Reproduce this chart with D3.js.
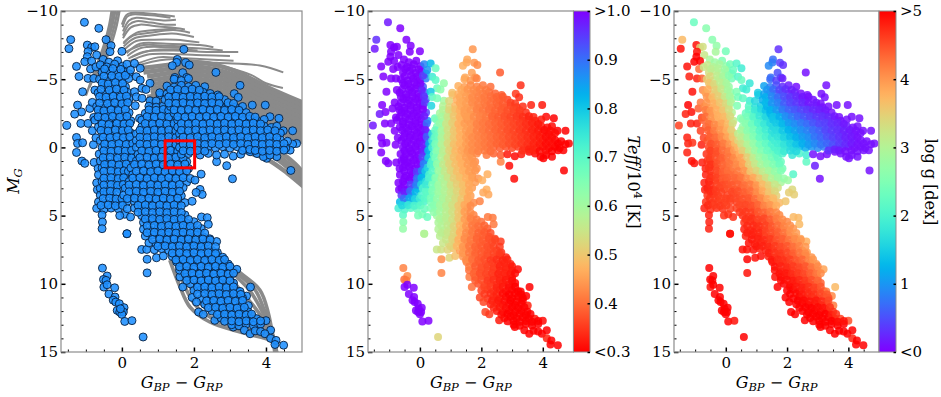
<!DOCTYPE html>
<html>
<head>
<meta charset="utf-8">
<script src="https://cdnjs.cloudflare.com/ajax/libs/d3/7.8.5/d3.min.js"></script>
<style>
  body { margin: 0; background: #fff; }
  text { font-family: "DejaVu Serif", serif; fill: #000; }
</style>
</head>
<body>
<svg id="chart" width="941" height="397"></svg>
<script>
// stars, each row is [bp-rp, M_G, teff/1e4, log g]
const hotOutliers = [
  [-1.04,-9.17,.98,2.3],[-.64,-8.73,1,2.6],[-1.42,-7.9,.96,3.7],[-1.47,-7.24,.98,4.9],[-.96,-7.5,1,4.9],[-.84,-7.33,1,3.5],
  [-.75,-7.38,1,3.3],[-.44,-7.9,1,2.6],[-.3,-7.46,1,2.7],[-.33,-7.02,1,2.9],[0,-7.04,1,2.4],[-.94,-7.02,1,4.9],
  [-.7,-6.77,1,3.2],[-.96,-6.65,1,5],[-1.03,-6.28,1,5],[-.84,-6.33,1,5],[-.52,-6.45,1,2.9],[-.36,-6.25,1,2.8],
  [-.12,-6.35,1,2.5],[-1.26,-5.94,1,4.9],[-.87,-5.75,1,4.3],[-.72,-5.9,1,3.2],[-1.19,-5.2,1,4.8],[-.94,-5.06,1,4.8],
  [-.78,-5.06,1,4.4],[-1.09,-4.08,1,4.9],[-.75,-4.2,1,4.1],[-1.23,-3.1,1,5],[-1.12,-2.6,1,4.9],[-1.31,-2.44,.98,4.8],
  [-.89,-2.86,1,4.4],[-1.14,-1.76,1,4.8],[-1.53,-1.61,.98,4.6],[-.94,-1.76,1,4.8],[-.82,-1.22,1,4.6],[-1.26,-.73,1,4.8],
  [-1.23,-.29,1,4.8],[-1.09,-.34,1,4.7],[-1.26,.37,1,4.8],[-.79,-.2,1,4.8],[-1.11,1,1,4.9],[-1.03,1.17,1,4.9],
  [-.63,.49,1,4.7],[-.77,1.1,1,4.8],[-.66,1.54,1,4.8],[-.52,.93,1,4.7],[-.82,-3.3,1,4.2],[-.78,-2.2,1,4.6],
  [-.7,2.6,1,4.8],[-.72,-.7,1,4.6],[-.68,3.1,1,4.8]
];

const hotStrip = [
  [-.6,-6.05,1,3.2],[-.42,-5.9,1,3],[-.2,-6.1,1,2.9],[.02,-5.95,1,2.7],[.14,-6.1,.88,2.4],
  [-.55,-5.5,1,3.3],[-.33,-5.6,1,3.1],[-.13,-5.45,1,2.9],[.06,-5.55,.98,2.6],[.2,-5.4,.85,2.3],
  [-.62,-5,1,3.5],[-.4,-4.9,1,3.2],[-.22,-5.05,1,3],[0,-4.95,1,2.8],[.19,-5.05,.88,2.4],
  [-.5,-4.55,1,3.6],[-.3,-4.4,1,3.3],[-.1,-4.55,1,3.1],[.1,-4.45,.92,2.7],
  [-.66,-4,1,3.9],[-.45,-3.9,1,3.6],[-.25,-4.05,1,3.4],[-.05,-3.95,1,3.1],[.15,-4.05,.9,2.7],
  [-.54,-3.55,1,3.9],[-.36,-3.45,1,3.6],[-.14,-3.55,1,3.4],[.05,-3.45,1,3.1],[.2,-3.55,.92,2.8],
  [-.7,-3,1,4.1],[-.5,-2.9,1,3.9],[-.3,-3.05,1,3.7],[-.1,-2.95,1,3.5],[.1,-3.05,1,3.2],
  [-.6,-2.55,1,4.1],[-.41,-2.45,1,3.9],[-.2,-2.5,1,3.7],[0,-2.42,1,3.5],[.2,-2.55,.94,3],
  [-.75,-2,1,4.4],[-.55,-1.9,1,4.1],[-.35,-2.05,1,3.9],[-.15,-1.95,1,3.8],[.05,-2.05,1,3.6],[.25,-1.95,.86,3.1],
  [-.65,-1.5,1,4.4],[-.44,-1.42,1,4.2],[-.26,-1.55,1,4],[-.05,-1.45,1,3.9],[.15,-1.55,1,3.6],
  [-.5,-1,1,4.4],[-.3,-.92,1,4.2],[-.1,-1.05,1,4],[.1,-.95,1,3.8],[.25,-1.05,.9,3.4],
  [-.6,-.5,1,4.5],[-.4,-.42,1,4.4],[-.2,-.55,1,4.2],[0,-.45,1,4.1],[.2,-.55,.96,3.7],
  [-.55,0,1,4.6],[-.35,.08,1,4.4],[-.15,-.05,1,4.3],[.05,.05,1,4.2],[.25,-.05,.82,3.9],
  [-.45,.5,1,4.6],[-.25,.42,1,4.5],[-.05,.55,1,4.3],[.15,.45,.92,4.2],[.3,.55,.8,4],
  [-.6,1,1,4.7],[-.4,1.08,1,4.5],[-.2,.95,1,4.4],[0,1.05,1,4.3],[.2,.95,.85,4.2],
  [-.55,1.5,1,4.7],[-.35,1.42,1,4.6],[-.15,1.55,1,4.4],[.05,1.45,.92,4.3],
  [-.65,2,1,4.8],[-.45,2.08,1,4.6],[-.25,1.95,1,4.5],[-.05,2.05,.92,4.4],[.1,1.95,.82,4.3],
  [-.55,2.5,1,4.8],[-.35,2.42,1,4.6],[-.15,2.55,.92,4.5],[0,2.45,.82,4.5],
  [-.6,3,1,4.8],[-.4,3.08,1,4.7],[-.2,2.95,.88,4.6],[-.05,3.05,.8,4.5],
  [-.6,3.5,.95,4.7],[-.42,3.42,.92,4.7],[-.25,3.55,.86,4.6],
  [-.65,4,.82,4.7],[-.45,4.08,.8,4.6],[-.25,3.95,.78,4.6],[-.05,4.05,.76,4.6],[.15,3.95,.72,4.6],
  [-.7,4.47,.73,4.8],[-.5,4.55,.72,4.7],[-.3,4.45,.7,4.7],[-.1,4.5,.68,4.7],[.08,4.9,.66,4.7],[-.06,5,.66,4.7],
  [-.55,4.95,.7,4.8],[-.54,5.47,.64,4.8],[-.55,5.96,.62,4.8],[.24,5.1,.68,4.7],[.14,6.33,.58,4.9]
];

const hotFill = [
  [-.48,-5.75,1,3.1],[-.25,-5.78,1,3],[-.03,-5.72,1,2.8],
  [-.5,-5.22,1,3.4],[-.28,-5.25,1,3.1],[-.08,-5.2,1,2.9],[.1,-5.28,.95,2.6],
  [-.55,-4.72,1,3.6],[-.38,-4.65,1,3.4],[-.18,-4.75,1,3.1],[.02,-4.68,1,2.9],
  [-.58,-4.25,1,3.8],[-.35,-4.2,1,3.5],[-.15,-4.28,1,3.2],[.06,-4.2,.98,2.9],
  [-.62,-3.72,1,4],[-.44,-3.68,1,3.7],[-.24,-3.75,1,3.5],[-.04,-3.7,1,3.2],[.13,-3.75,.96,2.9],
  [-.62,-3.25,1,4],[-.4,-3.22,1,3.8],[-.2,-3.28,1,3.6],[0,-3.2,1,3.4],[.16,-3.28,.95,3],
  [-.66,-2.75,1,4.2],[-.5,-2.68,1,4],[-.3,-2.75,1,3.8],[-.1,-2.7,1,3.6],[.1,-2.78,1,3.3],
  [-.66,-2.25,1,4.3],[-.47,-2.2,1,4],[-.26,-2.28,1,3.8],[-.06,-2.22,1,3.7],[.14,-2.28,.98,3.4],
  [-.55,-1.72,1,4.3],[-.36,-1.68,1,4.1],[-.14,-1.75,1,3.9],[.06,-1.7,1,3.7],[.22,-1.75,.9,3.3],
  [-.58,-1.25,1,4.4],[-.38,-1.2,1,4.2],[-.18,-1.28,1,4],[.02,-1.22,1,3.8],[.18,-1.28,.98,3.5],
  [-.52,-.75,1,4.4],[-.33,-.72,1,4.3],[-.14,-.78,1,4.1],[.04,-.72,1,3.9],[.22,-.78,.92,3.6],
  [-.48,-.25,1,4.5],[-.28,-.22,1,4.4],[-.08,-.28,1,4.2],[.12,-.22,.98,4],[.3,-.28,.84,3.7],
  [-.5,.25,1,4.6],[-.3,.28,1,4.5],[-.1,.22,1,4.3],[.1,.28,.98,4.2],[.27,.22,.82,3.95],
  [-.52,.75,1,4.6],[-.32,.72,1,4.5],[-.12,.78,1,4.4],[.08,.72,.95,4.25],[.27,.78,.8,4.1],
  [-.48,1.25,1,4.7],[-.28,1.22,1,4.5],[-.08,1.28,1,4.35],[.12,1.22,.88,4.25],
  [-.5,1.75,1,4.7],[-.3,1.72,1,4.55],[-.1,1.78,.95,4.4],[.06,1.72,.88,4.3],[.18,1.75,.8,4.3],
  [-.5,2.25,1,4.7],[-.3,2.22,1,4.6],[-.1,2.28,.9,4.45],[.05,2.22,.82,4.4],
  [-.5,2.75,1,4.75],[-.3,2.72,.95,4.6],[-.12,2.78,.88,4.55],[.04,2.72,.78,4.5],
  [-.5,3.25,.98,4.75],[-.32,3.22,.9,4.65],[-.14,3.28,.82,4.6],
  [-.52,3.75,.9,4.7],[-.34,3.72,.84,4.65],[-.16,3.78,.78,4.6],[0,3.75,.74,4.6],
  [-.58,4.25,.78,4.75],[-.38,4.22,.75,4.65],[-.18,4.28,.72,4.65],[.02,4.25,.7,4.6]
];

const midStars = [
  [.35,-6.16,.82,2.1],[.51,-5.8,.68,1.9],[.24,-5.67,.86,2.3],[.4,-5.18,.74,2.1],[.51,-4.94,.7,2.3],[.78,-4.7,.62,1.8],
  [.56,-4.33,.68,1.9],[.67,-4.25,.63,1.9],[.35,-4.08,.8,2.5],[.4,-3.7,.7,2.4],[.78,-3.42,.6,1.9],[.56,-3.6,.66,2.2],
  [.37,-3.06,.78,2.5],[.49,-2.13,.68,2.6],[1.06,-3.84,.49,1.4],[.95,-3.4,.52,1.6],
  [.75,-3.02,.58,2.1],[.95,-2.95,.52,1.7],[1.15,-3.05,.48,1.5],
  [.65,-2.5,.6,2.3],[.85,-2.42,.55,2],[1.05,-2.55,.5,1.8],[1.25,-2.45,.47,1.5],
  [.55,-2,.65,2.6],[.75,-1.92,.58,2.4],[.95,-2.05,.53,2.1],[1.15,-1.95,.49,1.8],[1.35,-2.05,.46,1.6],
  [.55,-1.5,.66,2.7],[.75,-1.42,.58,2.5],[.95,-1.55,.53,2.3],[1.15,-1.45,.49,2],[1.35,-1.55,.46,1.8],
  [.4,-1,.76,3.1],[.6,-.92,.63,2.9],[.8,-1.05,.57,2.6],[1,-.95,.52,2.3],[1.2,-1.05,.48,2.1],[1.4,-.95,.46,1.9],
  [.4,-.5,.74,3.4],[.6,-.42,.62,3],[.8,-.55,.56,2.8],[1,-.45,.51,2.5],[1.2,-.55,.48,2.3],[1.4,-.45,.46,2.1],
  [.4,0,.72,3.7],[.6,.08,.61,3.2],[.8,-.05,.55,2.9],[1,.05,.5,2.6],[1.2,-.05,.47,2.4],[1.4,.05,.45,2.2],
  [.45,.5,.68,3.8],[.65,.42,.59,3.4],[.85,.55,.54,3.1],[1.05,.45,.5,2.8],[1.25,.55,.47,2.6],[1.45,.45,.45,2.4],
  [.4,1,.7,4],[.6,1.08,.6,3.8],[.8,.95,.55,3.4],[1,1.05,.5,3],[1.2,.95,.48,2.8],[1.4,1.05,.46,2.6],[1.6,.95,.44,2.4],[1.8,1.05,.43,2.3],
  [.25,1.5,.78,4.2],[.45,1.42,.66,4.1],[.65,1.55,.59,3.9],[.85,1.45,.54,3.5],[1.05,1.55,.5,3.2],[1.25,1.45,.48,3],[1.45,1.55,.46,2.8],[1.65,1.45,.45,2.6],[1.85,1.55,.44,2.4],
  [.3,2,.72,4.3],[.5,2.08,.63,4.2],[.7,1.95,.58,4],[.9,2.05,.54,3.8],[1.1,1.95,.5,3.5],[1.3,2.05,.48,3.2],[1.5,1.95,.46,3],[1.7,2.05,.45,2.7],
  [.2,2.5,.76,4.4],[.4,2.42,.66,4.3],[.6,2.55,.61,4.2],[.8,2.45,.57,4.1],[1,2.55,.53,3.9],[1.2,2.45,.5,3.5],[1.4,2.55,.48,3.3],[1.6,2.45,.46,3.1],[1.8,2.55,.45,2.9],
  [.1,3,.72,4.5],[.3,3.08,.68,4.5],[.5,2.95,.63,4.4],[.7,3.05,.6,4.3],[.9,2.95,.56,4.2],[1.1,3.05,.52,4],[1.3,2.95,.5,3.7],[1.5,3.05,.47,3.5],[1.7,2.95,.45,3.3],
  [.05,3.5,.72,4.6],[.25,3.42,.68,4.6],[.45,3.55,.64,4.5],[.65,3.45,.6,4.4],[.85,3.55,.57,4.3],[1.05,3.45,.54,4.1],[1.25,3.55,.51,3.9],[1.45,3.45,.48,3.7],[1.65,3.55,.45,3.5],
  [.35,4,.66,4.6],[.55,4.08,.62,4.5],[.75,3.95,.59,4.5],[.95,4.05,.56,4.4],[1.15,3.95,.53,4.2],[1.35,4.05,.49,4],[1.55,3.95,.46,3.8],[1.75,4.05,.43,3.7],[1.95,3.95,.42,3.6],
  [.15,4.5,.68,4.6],[.35,4.45,.66,4.6],[.55,4.55,.62,4.6],[.75,4.45,.59,4.6],[.95,4.55,.56,4.5],[1.15,4.45,.52,4.3],[1.35,4.55,.47,4.2],[1.55,4.45,.43,4],
  [.55,5,.6,4.7],[.75,5.08,.58,4.7],[.95,4.95,.56,4.6],[1.15,5.05,.52,4.5],[1.35,4.95,.47,4.4],[1.55,5.05,.43,4.3],[1.75,4.95,.42,4.1],[2.21,5.1,.41,3.7],[2.37,5.15,.41,3.7],
  [.6,5.5,.59,4.7],[.8,5.42,.57,4.7],[1,5.55,.55,4.7],[1.2,5.45,.5,4.6],[1.4,5.55,.46,4.5],[1.6,5.45,.42,4.3],[1.8,5.55,.41,4.2],[2,5.45,.4,4.1],[2.4,5.64,.41,3.7],
  [.6,6,.58,4.8],[.8,6.08,.56,4.8],[1,5.95,.54,4.7],[1.2,6.05,.5,4.7],[1.4,5.95,.45,4.5],[1.6,6.05,.42,4.4],[1.8,5.95,.4,4.3],[2,6.05,.39,4.1],[2.2,5.95,.38,4],
  [.65,6.5,.57,4.8],[.85,6.42,.55,4.8],[1.05,6.55,.52,4.8],[1.25,6.45,.48,4.7],[1.45,6.55,.44,4.6],[1.65,6.45,.41,4.5],[1.85,6.55,.39,4.4],[2.05,6.45,.38,4.2],[2.25,6.55,.37,4.1],[2.44,6.7,.36,3.9],
  [.55,7.48,.55,4.9],[.69,7.48,.54,4.9],[.75,7,.55,4.9],[.95,7.08,.53,4.8],[1.15,6.95,.5,4.8],[1.35,7.05,.45,4.7],[1.55,6.95,.42,4.6],[1.75,7.05,.4,4.5],[1.95,6.95,.38,4.4],[2.15,7.05,.37,4.2],[2.35,6.95,.36,4.1],[2.63,6.9,.35,3.8]
];

const midFill = [
  [.75,-2.75,.58,2.2],[.95,-2.72,.52,1.85],[1.15,-2.78,.49,1.6],[1.3,-2.72,.47,1.4],
  [.7,-2.25,.6,2.4],[.9,-2.22,.55,2.1],[1.1,-2.28,.5,1.8],[1.3,-2.22,.47,1.6],[1.5,-2.28,.45,1.4],
  [.65,-1.75,.62,2.6],[.85,-1.72,.55,2.3],[1.05,-1.78,.51,2],[1.25,-1.72,.47,1.8],[1.45,-1.75,.45,1.6],
  [.5,-1.25,.68,2.9],[.7,-1.22,.6,2.6],[.9,-1.28,.54,2.4],[1.1,-1.22,.5,2.1],[1.3,-1.28,.47,1.9],[1.5,-1.22,.45,1.7],
  [.5,-.75,.68,3.1],[.7,-.72,.59,2.8],[.9,-.78,.54,2.5],[1.1,-.72,.5,2.2],[1.3,-.78,.47,2],[1.5,-.72,.45,1.8],
  [.5,-.25,.66,3.3],[.7,-.22,.58,3],[.9,-.28,.53,2.7],[1.1,-.22,.49,2.4],[1.3,-.28,.47,2.2],[1.5,-.22,.45,2],
  [.55,.25,.64,3.5],[.75,.28,.57,3.1],[.95,.22,.52,2.8],[1.15,.28,.48,2.5],[1.35,.22,.46,2.3],[1.55,.28,.44,2.2],
  [.5,.75,.66,3.9],[.7,.72,.58,3.5],[.9,.78,.53,3.1],[1.1,.72,.49,2.8],[1.3,.78,.47,2.6],[1.5,.72,.45,2.4],[1.7,.78,.44,2.2],
  [.35,1.25,.72,4.1],[.55,1.22,.63,3.9],[.75,1.28,.56,3.5],[.95,1.22,.52,3.2],[1.15,1.28,.49,2.9],[1.35,1.22,.47,2.7],[1.55,1.28,.45,2.5],[1.75,1.22,.44,2.3],
  [.4,1.75,.7,4.2],[.6,1.72,.61,4],[.8,1.78,.56,3.6],[1,1.72,.52,3.4],[1.2,1.78,.49,3.1],[1.4,1.72,.47,2.9],[1.6,1.78,.45,2.7],[1.8,1.72,.44,2.5],
  [.3,2.25,.72,4.35],[.5,2.22,.64,4.25],[.7,2.28,.59,4.05],[.9,2.22,.55,3.85],[1.1,2.28,.51,3.6],[1.3,2.22,.49,3.3],[1.5,2.28,.47,3],[1.7,2.22,.45,2.8],[1.9,2.28,.44,2.7],
  [.2,2.75,.74,4.45],[.4,2.72,.66,4.4],[.6,2.78,.61,4.3],[.8,2.72,.58,4.2],[1,2.78,.54,4],[1.2,2.72,.51,3.7],[1.4,2.78,.49,3.5],[1.6,2.72,.46,3.2],
  [.2,3.25,.7,4.55],[.4,3.22,.65,4.5],[.6,3.28,.61,4.4],[.8,3.22,.58,4.3],[1,3.28,.55,4.1],[1.2,3.22,.52,3.85],[1.4,3.28,.49,3.6],[1.6,3.22,.46,3.4],
  [.15,3.75,.7,4.6],[.35,3.72,.66,4.55],[.55,3.78,.62,4.5],[.75,3.72,.59,4.45],[.95,3.78,.56,4.3],[1.15,3.72,.53,4.1],[1.35,3.78,.5,3.9],[1.55,3.72,.46,3.7],
  [.45,4.25,.64,4.55],[.65,4.22,.6,4.55],[.85,4.28,.57,4.5],[1.05,4.22,.54,4.35],[1.25,4.28,.5,4.15],[1.45,4.22,.46,4],[1.65,4.28,.43,3.8],
  [.45,4.75,.63,4.65],[.65,4.72,.6,4.65],[.85,4.78,.57,4.6],[1.05,4.72,.54,4.45],[1.25,4.78,.5,4.35],[1.45,4.72,.45,4.2],[1.65,4.78,.43,4.1],
  [.65,5.25,.59,4.7],[.85,5.22,.57,4.7],[1.05,5.28,.54,4.6],[1.25,5.22,.5,4.55],[1.45,5.28,.45,4.4],[1.65,5.22,.42,4.2],[1.85,5.28,.41,4.1],
  [.7,5.75,.58,4.75],[.9,5.72,.56,4.75],[1.1,5.78,.52,4.7],[1.3,5.72,.48,4.6],[1.5,5.78,.44,4.45],[1.7,5.72,.41,4.3],[1.9,5.78,.4,4.15],[2.1,5.72,.39,4.05],
  [.7,6.25,.57,4.8],[.9,6.22,.55,4.8],[1.1,6.28,.52,4.75],[1.3,6.22,.47,4.6],[1.5,6.28,.43,4.5],[1.7,6.22,.41,4.4],[1.9,6.28,.39,4.25],[2.1,6.22,.38,4.05],[2.3,6.28,.37,3.95],
  [.85,6.75,.55,4.85],[1.05,6.72,.52,4.8],[1.25,6.78,.47,4.75],[1.45,6.72,.43,4.65],[1.65,6.78,.41,4.5],[1.85,6.72,.39,4.4],[2.05,6.78,.38,4.25],[2.25,6.72,.37,4.1],[2.45,6.78,.36,4]
];

const giantStars = [
  [1.72,-7.19,.44,.3],[1.54,-6.45,.46,.7],[1.52,-6.23,.46,.8],[1.77,-6.21,.44,.4],[1.4,-5.99,.47,.9],[1.87,-6.04,.43,.3],
  [2.61,-5.5,.38,.1],[1.69,-5.48,.45,.5],[1.47,-5.13,.46,.7],[1.8,-5.13,.44,.4],[3.28,-4.55,.34,.1],[3.12,-3.94,.35,.1],
  [2.66,-3.84,.38,.1],[3.23,-3.67,.34,.1],[3.62,-3.1,.33,.1],[3.98,-3.1,.32,.1],[4.11,-2.25,.31,.1],[4.36,-2.13,.3,.1],
  [4.48,-1.22,.3,.1],[4.74,-1.22,.3,.1],[4.85,-.29,.3,.1],[4.74,-.24,.3,.1],[4.67,.2,.3,.1],[4.69,1.69,.3,.1],
  [4.3,.68,.3,.1],[4.02,.8,.3,.1],[2.91,1.34,.31,.2],[2.63,1.05,.42,2.2],[3.07,2.3,.31,.1],[2.2,1.96,.47,2.1],
  [2.03,2.4,.47,2.8],[2.17,3.08,.47,3.4],[2.23,3.45,.46,3.5],[2.06,3.3,.46,3.5],
  [1.45,-5,.46,.7],[1.65,-4.9,.44,.4],[1.85,-5.05,.42,.2],
  [1.25,-4.5,.47,1.1],[1.45,-4.42,.45,.8],[1.65,-4.55,.43,.5],[1.85,-4.45,.42,.3],[2.05,-4.55,.41,.2],[2.3,-4.45,.4,.1],
  [1.05,-4,.49,1.5],[1.25,-3.92,.47,1.1],[1.45,-4.05,.45,.8],[1.65,-3.95,.43,.6],[1.85,-4.05,.42,.5],[2.05,-3.95,.41,.3],[2.25,-4.05,.4,.2],[2.45,-3.95,.39,.1],
  [1.2,-3.5,.47,1.2],[1.4,-3.42,.45,1],[1.6,-3.55,.43,.8],[1.8,-3.45,.42,.6],[2,-3.55,.41,.4],[2.2,-3.45,.4,.3],[2.4,-3.55,.39,.2],[2.6,-3.45,.38,.1],[2.85,-3.5,.36,.1],
  [1.35,-3,.46,1.2],[1.55,-2.92,.44,1],[1.75,-3.05,.43,.8],[1.95,-2.95,.41,.6],[2.15,-3.05,.4,.5],[2.35,-2.95,.39,.4],[2.55,-3.05,.38,.3],[2.75,-2.95,.37,.2],[2.95,-3.05,.36,.2],[3.15,-2.95,.35,.1],[3.35,-3,.34,.1],
  [1.45,-2.5,.45,1.3],[1.65,-2.42,.44,1.1],[1.85,-2.55,.42,.9],[2.05,-2.45,.41,.7],[2.25,-2.55,.4,.6],[2.45,-2.45,.39,.5],[2.65,-2.55,.38,.4],[2.85,-2.45,.37,.3],[3.05,-2.55,.36,.2],[3.25,-2.45,.35,.2],[3.45,-2.55,.34,.1],
  [1.55,-2,.44,1.4],[1.75,-1.92,.43,1.2],[1.95,-2.05,.41,1],[2.15,-1.95,.4,.9],[2.35,-2.05,.39,.7],[2.55,-1.95,.38,.6],[2.75,-2.05,.37,.5],[2.95,-1.95,.36,.4],[3.15,-2.05,.35,.3],[3.35,-1.95,.34,.3],[3.55,-2.05,.33,.2],[3.75,-1.95,.33,.1],[3.95,-2.05,.32,.1],
  [1.55,-1.5,.45,1.6],[1.75,-1.42,.43,1.4],[1.95,-1.55,.41,1.2],[2.15,-1.45,.4,1],[2.35,-1.55,.39,.9],[2.55,-1.45,.38,.8],[2.75,-1.55,.37,.7],[2.95,-1.45,.36,.6],[3.15,-1.55,.35,.5],[3.35,-1.45,.34,.4],[3.55,-1.55,.33,.3],[3.75,-1.45,.33,.2],[3.95,-1.55,.32,.2],[4.15,-1.45,.31,.1],[4.3,-1.55,.31,.1],
  [1.6,-1,.44,1.7],[1.8,-.92,.43,1.5],[2,-1.05,.41,1.4],[2.2,-.95,.4,1.2],[2.4,-1.05,.39,1],[2.6,-.95,.38,.9],[2.8,-1.05,.37,.8],[3,-.95,.36,.7],[3.2,-1.05,.35,.5],[3.4,-.95,.34,.4],[3.6,-1.05,.33,.3],[3.8,-.95,.33,.2],[4,-1.05,.32,.2],[4.2,-.95,.31,.1],[4.4,-1.05,.31,.1],
  [1.6,-.5,.44,1.9],[1.8,-.42,.43,1.7],[2,-.55,.41,1.5],[2.2,-.45,.4,1.4],[2.4,-.55,.39,1.2],[2.6,-.45,.38,1.1],[2.8,-.55,.37,.9],[3,-.45,.36,.8],[3.2,-.55,.35,.7],[3.4,-.45,.34,.5],[3.6,-.55,.33,.4],[3.8,-.45,.33,.3],[4,-.55,.32,.2],[4.2,-.45,.31,.2],[4.4,-.55,.3,.1],[4.6,-.45,.3,.1],
  [1.6,0,.44,2],[1.8,.08,.43,1.8],[2,-.05,.41,1.7],[2.2,.05,.4,1.5],[2.4,-.05,.39,1.3],[2.6,.05,.38,1.2],[2.8,-.05,.37,1],[3,.05,.36,.9],[3.2,-.05,.35,.8],[3.4,.05,.34,.6],[3.6,-.05,.33,.5],[3.8,.05,.32,.3],[4,-.05,.31,.2],[4.2,.05,.31,.1],[4.4,-.05,.3,.1],[4.55,.05,.3,.1],
  [1.65,.5,.44,2.2],[1.85,.45,.43,2],[2.17,.56,.41,1.8],[2.4,.44,.39,2],[2.63,.56,.38,1.9],[2.85,.5,.32,.1],[3.09,.64,.31,.1],[3.3,.5,.32,.1],[3.56,.32,.31,.1],[3.75,.45,.31,.1],[3.93,.68,.3,.1],[4.11,.56,.3,.1]
];

const giantFill = [
  [1.35,-4.22,.46,1],[1.55,-4.25,.44,.7],[1.75,-4.2,.43,.45],[1.95,-4.27,.42,.3],[2.15,-4.2,.41,.2],
  [1.3,-3.7,.46,1.2],[1.5,-3.75,.45,.9],[1.7,-3.68,.43,.7],[1.9,-3.74,.42,.5],[2.1,-3.7,.41,.35],[2.3,-3.75,.4,.25],[2.5,-3.7,.39,.15],[2.7,-3.72,.38,.1],
  [1.3,-3.25,.46,1.3],[1.5,-3.22,.45,1],[1.7,-3.28,.43,.85],[1.9,-3.2,.42,.6],[2.1,-3.27,.41,.45],[2.3,-3.22,.4,.35],[2.5,-3.28,.39,.25],[2.7,-3.22,.38,.15],[2.95,-3.28,.36,.15],[3.1,-3.22,.35,.1],
  [1.45,-2.75,.45,1.25],[1.65,-2.72,.44,1.05],[1.85,-2.78,.42,.8],[2.05,-2.72,.41,.65],[2.25,-2.78,.4,.55],[2.45,-2.72,.39,.45],[2.65,-2.78,.38,.35],[2.85,-2.72,.37,.25],[3.05,-2.78,.36,.2],[3.25,-2.72,.35,.15],
  [1.55,-2.25,.45,1.4],[1.75,-2.22,.43,1.2],[1.95,-2.28,.42,.95],[2.15,-2.22,.41,.8],[2.35,-2.28,.39,.65],[2.55,-2.22,.38,.55],[2.75,-2.28,.37,.45],[2.95,-2.22,.36,.35],[3.15,-2.28,.35,.3],[3.35,-2.22,.34,.25],[3.55,-2.28,.33,.15],[3.7,-2.22,.33,.1],
  [1.65,-1.75,.44,1.45],[1.85,-1.72,.42,1.3],[2.05,-1.78,.41,1.05],[2.25,-1.72,.4,.95],[2.45,-1.78,.39,.8],[2.65,-1.72,.38,.7],[2.85,-1.78,.37,.55],[3.05,-1.72,.36,.45],[3.25,-1.78,.35,.4],[3.45,-1.72,.34,.3],[3.65,-1.78,.33,.25],[3.85,-1.72,.32,.15],
  [1.65,-1.25,.44,1.65],[1.85,-1.22,.42,1.45],[2.05,-1.28,.41,1.25],[2.25,-1.22,.4,1.1],[2.45,-1.28,.39,.95],[2.65,-1.22,.38,.85],[2.85,-1.28,.37,.7],[3.05,-1.22,.36,.6],[3.25,-1.28,.35,.45],[3.45,-1.22,.34,.35],[3.65,-1.28,.33,.3],[3.85,-1.22,.32,.2],[4.05,-1.28,.31,.15],[4.25,-1.22,.31,.1],
  [1.7,-.75,.43,1.75],[1.9,-.72,.42,1.55],[2.1,-.78,.41,1.35],[2.3,-.72,.4,1.2],[2.5,-.78,.39,1.05],[2.7,-.72,.38,.95],[2.9,-.78,.37,.75],[3.1,-.72,.36,.65],[3.3,-.78,.35,.5],[3.5,-.72,.34,.4],[3.7,-.78,.33,.3],[3.9,-.72,.32,.2],[4.1,-.78,.31,.15],[4.3,-.72,.31,.1],
  [1.7,-.25,.43,1.9],[1.9,-.22,.42,1.75],[2.1,-.28,.41,1.55],[2.3,-.22,.4,1.4],[2.5,-.28,.39,1.2],[2.7,-.22,.38,1.05],[2.9,-.28,.37,.9],[3.1,-.22,.36,.75],[3.3,-.28,.35,.65],[3.5,-.22,.34,.5],[3.7,-.28,.33,.35],[3.9,-.22,.32,.25],[4.1,-.28,.31,.15],[4.3,-.22,.31,.1],[4.5,-.28,.3,.1],
  [1.7,.25,.43,2],[1.9,.28,.42,1.85],[2.1,.22,.41,1.65],[2.3,.28,.4,1.6],[3.35,.22,.34,.3],[3.55,.15,.33,.2],[3.7,.22,.33,.15],[3.9,.28,.31,.1],[4.1,.22,.31,.1],[4.3,.28,.3,.1],[4.5,.2,.3,.1]
];

const lowerStars = [
  [.96,8.09,.52,4.9],[1.15,7.96,.49,4.9],[.9,7.5,.52,4.9],[1.1,7.42,.49,4.8],[1.3,7.55,.45,4.8],[1.5,7.45,.42,4.7],[1.7,7.55,.4,4.6],[1.9,7.45,.38,4.5],[2.1,7.55,.37,4.4],[2.3,7.45,.36,4.2],[2.5,7.55,.35,4.1],[2.65,7.7,.34,3.9],
  [1.4,8,.44,4.8],[1.6,8.08,.41,4.7],[1.8,7.95,.39,4.7],[2,8.05,.37,4.6],[2.2,7.95,.36,4.5],[2.4,8.05,.35,4.3],[2.6,7.95,.34,4.2],[2.8,8.05,.33,4],
  [1.52,8.4,.42,4.9],[1.75,8.5,.39,4.8],[1.95,8.42,.37,4.7],[2.15,8.55,.36,4.6],[2.35,8.45,.35,4.5],[2.55,8.55,.34,4.4],[2.75,8.45,.33,4.2],[2.95,8.55,.33,4],
  [1.61,9.5,.41,4.9],[1.6,9,.4,4.9],[1.8,9.08,.38,4.8],[2,8.95,.37,4.8],[2.2,9.05,.36,4.7],[2.4,8.95,.35,4.6],[2.6,9.05,.33,4.5],[2.8,8.95,.33,4.3],[3,9.05,.32,4.2],[3.19,8.94,.31,3.9],
  [1.8,9.5,.38,4.9],[2,9.42,.37,4.9],[2.2,9.55,.35,4.8],[2.4,9.45,.34,4.7],[2.6,9.55,.33,4.6],[2.8,9.45,.32,4.4],[3,9.55,.31,4.3],
  [1.69,10.24,.4,5],[1.9,10,.37,5],[2.1,10.08,.36,4.9],[2.3,9.95,.35,4.8],[2.5,10.05,.33,4.8],[2.7,9.95,.32,4.7],[2.9,10.05,.31,4.6],[3.1,9.95,.3,4.4],[3.57,10.24,.3,3.7],
  [2,10.5,.36,5],[2.2,10.42,.34,5],[2.4,10.55,.33,4.9],[2.6,10.45,.32,4.8],[2.8,10.55,.31,4.7],[3,10.45,.3,4.6],[3.2,10.55,.3,4.5],[3.28,10.56,.3,4.2],[3.46,10.9,.3,4.1],
  [1.95,11,.36,5],[2.2,11.08,.34,5],[2.4,10.95,.33,5],[2.6,11.05,.32,4.9],[2.8,10.95,.3,4.8],[3,11.05,.3,4.8],[3.2,10.95,.3,4.6],[3.35,11.05,.3,4.5],[2.07,11.34,.36,5],
  [2.3,11.5,.33,5],[2.5,11.42,.32,5],[2.7,11.55,.31,5],[2.9,11.45,.3,4.9],[3.1,11.55,.3,4.9],[3.3,11.45,.3,4.7],[3.51,11.6,.33,4.2],
  [2.13,12.07,.36,5],[2.26,12.24,.35,5],[2.5,12,.32,5],[2.7,12.08,.31,5],[2.9,11.95,.3,5],[3.1,12.05,.3,5],[3.3,11.95,.3,4.9],[3.5,12.05,.3,4.7],
  [2.58,12.68,.32,5],[2.75,12.5,.31,5],[2.95,12.42,.3,5],[3.15,12.55,.3,5],[3.35,12.45,.3,5],[3.55,12.55,.3,4.9],[3.74,12.56,.32,4.6],[4,12.7,.31,4.5],
  [3.09,13.17,.3,5],[3.05,13,.3,5],[3.25,13.08,.3,5],[3.45,12.95,.3,5],[3.65,13.05,.3,5],[3.85,12.95,.3,5],[4.13,13.4,.3,5],
  [3.4,13.4,.3,5],[3.56,13.66,.3,5],[3.7,13.45,.3,5],[3.85,13.5,.3,5],[3.97,13.66,.3,5],[4.13,14,.33,4.8],[4.28,14.15,.3,5],[4.25,14.45,.3,5],[4.49,14.5,.3,5]
];

const lowerFill = [
  [1,7.25,.52,4.85],[1.2,7.22,.48,4.8],[1.4,7.28,.44,4.75],[1.6,7.22,.41,4.65],[1.8,7.28,.39,4.55],[2,7.22,.38,4.45],[2.2,7.28,.37,4.3],[2.4,7.22,.36,4.15],[2.6,7.28,.35,4],
  [1.4,7.75,.44,4.8],[1.6,7.72,.41,4.7],[1.8,7.78,.39,4.65],[2,7.72,.38,4.55],[2.2,7.78,.37,4.4],[2.4,7.72,.36,4.25],[2.6,7.78,.35,4.1],
  [1.5,8.25,.43,4.85],[1.7,8.22,.4,4.75],[1.9,8.28,.38,4.7],[2.1,8.22,.37,4.6],[2.3,8.28,.35,4.45],[2.5,8.22,.34,4.35],[2.7,8.28,.33,4.15],[2.85,8.22,.33,4],
  [1.6,8.75,.41,4.9],[1.8,8.72,.38,4.8],[2,8.78,.37,4.75],[2.2,8.72,.36,4.65],[2.4,8.78,.35,4.55],[2.6,8.72,.33,4.45],[2.8,8.78,.33,4.25],[3,8.72,.32,4.1],
  [1.75,9.25,.39,4.9],[1.95,9.22,.37,4.85],[2.15,9.28,.36,4.75],[2.35,9.22,.35,4.65],[2.55,9.28,.33,4.55],[2.75,9.22,.33,4.4],[2.95,9.28,.32,4.25],[3.1,9.22,.31,4.1],
  [1.8,9.75,.38,4.95],[2,9.72,.37,4.9],[2.2,9.78,.35,4.85],[2.4,9.72,.34,4.75],[2.6,9.78,.33,4.65],[2.8,9.72,.32,4.5],[3,9.78,.31,4.35],
  [2.1,10.25,.36,4.95],[2.3,10.22,.35,4.85],[2.5,10.28,.33,4.8],[2.7,10.22,.32,4.7],[2.9,10.28,.31,4.6],[3.1,10.22,.3,4.45],
  [2.1,10.75,.35,5],[2.3,10.72,.34,4.95],[2.5,10.78,.33,4.85],[2.7,10.72,.31,4.75],[2.9,10.78,.3,4.7],[3.1,10.72,.3,4.55],[3.3,10.78,.3,4.45],
  [2.35,11.25,.33,5],[2.55,11.22,.32,4.95],[2.75,11.28,.31,4.9],[2.95,11.22,.3,4.85],[3.15,11.28,.3,4.75],[3.35,11.22,.3,4.55],
  [2.4,11.75,.33,5],[2.6,11.72,.32,5],[2.8,11.78,.31,5],[3,11.72,.3,4.95],[3.2,11.78,.3,4.9],[3.4,11.72,.3,4.7],
  [2.65,12.25,.31,5],[2.85,12.22,.3,5],[3.05,12.28,.3,5],[3.25,12.22,.3,5],[3.45,12.28,.3,4.85],[3.6,12.22,.3,4.7],
  [2.85,12.75,.3,5],[3.05,12.72,.3,5],[3.25,12.78,.3,5],[3.45,12.72,.3,5],[3.65,12.78,.3,4.95],[3.85,12.72,.3,4.9]
];

const dwarfStars = [
  [.14,6.33,.58,4.9],[.7,8.2,.43,5],[.7,9.2,.42,4.9],[.59,13.9,.52,5],
  [-.54,8.85,.42,5],[-.41,9.43,.43,5],[-.51,9.68,.4,5],[-.44,9.75,.41,5],[-.5,10.24,1,4.9],[-.41,10.07,1,5],
  [-.2,10.29,1,5],[-.36,10.75,1,5],[-.19,10.97,1,5],[-.24,11.2,1,5],[-.17,11.34,1,5],[-.07,11.46,1,5],
  [.06,11.75,1,5],[-.13,11.95,1,5],[-.06,12.07,1,5],[.04,12.07,1,5],[0,12.24,1,5],[-.04,11.83,1,5],[.08,12.76,1,5],[.28,12.7,1,4.9]
];

// grey evolution tracks, [bp-rp, M_G] along each one
const riseTracks = [
  [[-.05,-10.3],[-.14,-9],[-.3,-7.5],[-.5,-6],[-.7,-5]],[[-.1,-10.3],[-.2,-9],[-.36,-7.5],[-.56,-6],[-.78,-5]],
  [[-.16,-10.3],[-.26,-9],[-.42,-7.5],[-.6,-6],[-.84,-4.8]],[[-.22,-10.3],[-.3,-9],[-.46,-7.5],[-.66,-6],[-.9,-4.4]],
  [[-.27,-10.3],[-.35,-9],[-.5,-7.5],[-.7,-6],[-1,-3.8]]
];
const fanTracks = [
  [[0,-9],[.12,-9.7],[.25,-9.85],[.6,-9.85],[1,-9.75],[1.47,-9.6]],[[.02,-8.8],[.15,-9.6],[.3,-9.75],[.7,-9.7],[1.1,-9.6],[1.35,-9.5]],
  [[.03,-8.5],[.2,-9.3],[.4,-9.5],[.8,-9.4],[1.2,-9.3],[1.5,-9.35]],[[.03,-8.2],[.2,-9],[.4,-9.25],[.8,-9.15],[1.2,-9],[1.5,-9]],
  [[.03,-8],[.25,-8.8],[.5,-9],[.9,-8.9],[1.3,-8.8],[1.75,-8.65]],[[.04,-7.6],[.31,-8.2],[.78,-8.4],[1.43,-8.6],[1.89,-8.4]],
  [[.05,-7.4],[.35,-8],[.8,-8.2],[1.4,-8.35],[2,-8.1]],[[.08,-7.2],[.4,-7.8],[.9,-7.9],[1.5,-7.9],[2.15,-7.7]],
  [[.13,-6.9],[.5,-7.6],[1.24,-7.6],[2.17,-7.5],[2.54,-7.35]],[[.15,-6.7],[.55,-7.3],[1.3,-7.35],[2.2,-7.25],[2.8,-7.1]],
  [[.18,-6.5],[.59,-7],[1.43,-7.1],[2.35,-7],[3.23,-7]],[[.2,-6.3],[.7,-6.8],[1.4,-6.85],[2.3,-6.75],[3,-6.7]],
  [[.31,-5.9],[1.24,-6.45],[2.63,-6.2],[3.83,-6],[4.48,-5.5]],[[.3,-6],[1,-6.6],[1.6,-6.55],[2.4,-6.45],[3.1,-6.35]],
  [[.25,-6.6],[.8,-7.1],[1.5,-7.2],[2.1,-7.1]],[[.1,-7],[.6,-7.5],[1.2,-7.45],[1.8,-7.4]],[[.05,-7.7],[.4,-8.4],[.9,-8.6],[1.5,-8.7]],
  [[2.9,-5.9],[3.6,-5.3],[4,-4.7],[4.47,-4.35]]
];
const bandTracks = [
  [[.5,-5.8],[1.5,-6.1],[2.2,-6.2],[3.08,-5.67],[4.03,-4.43],[5.1,-3.2]],[[.6,-5.5],[1.5,-5.8],[2.2,-5.9],[3.08,-5.35],[4.03,-4.15],[5.1,-2.95]],
  [[.7,-5.2],[1.5,-5.5],[2.2,-5.6],[3.08,-5.05],[4.03,-3.85],[5.1,-2.65]],[[.8,-4.9],[1.5,-5.2],[2.2,-5.3],[3.08,-4.75],[4.03,-3.55],[5.1,-2.35]],
  [[.8,-4.6],[1.5,-4.9],[2.2,-5],[3.08,-4.45],[4.03,-3.25],[5.1,-2.05]],[[.8,-4.3],[1.5,-4.6],[2.2,-4.7],[3.08,-4.15],[4.03,-2.95],[5.1,-1.75]],
  [[.8,-4],[1.5,-4.3],[2.2,-4.4],[3.08,-3.85],[4.03,-2.65],[5.1,-1.45]],[[.7,-3.7],[1.5,-4],[2.2,-4.1],[3.08,-3.55],[4.03,-2.35],[5.1,-1.15]],
  [[.7,-3.4],[1.5,-3.7],[2.2,-3.8],[3.08,-3.25],[4.03,-2.05],[5.1,-.85]],[[.7,-3.1],[1.5,-3.4],[2.2,-3.5],[3.08,-2.95],[4.03,-1.75],[5.1,-.55]],
  [[.8,-2.8],[1.5,-3.1],[2.2,-3.2],[3.08,-2.65],[4.03,-1.45],[5.1,-.3]],[[3.4,.3],[4.05,.9],[4.6,1.9],[5.1,3]],
  [[3.5,.2],[4.2,.7],[4.7,1.7],[5.1,2.7]],[[3.7,.2],[4.3,.6],[4.8,1.6],[5.1,2.4]],[[3.9,.1],[4.4,.4],[4.8,1.2],[5.1,2.1]]
];
const dwarfTracks = [
  [[1.33,8.26],[1.61,10.2],[1.89,11.7],[2.44,12.8],[3.36,13.6],[4.19,14.3],[4.25,15.2]],[[1.42,8],[1.73,10.1],[2.05,11.6],[2.62,12.7],[3.48,13.5],[4.2,14.25],[4.26,15.2]],
  [[1.5,7.8],[1.85,10],[2.2,11.5],[2.8,12.6],[3.6,13.4],[4.2,14.2],[4.28,15.2]],[[1.7,7.6],[2.1,9.8],[2.5,11.2],[3,12.3],[3.7,13.2],[4.2,14.1],[4.28,15.2]],
  [[1.9,7.4],[2.4,9.5],[2.8,11],[3.2,12],[3.8,13],[4.2,14],[4.3,15.2]],[[2.1,7.3],[2.65,9.2],[3.05,10.7],[3.45,11.8],[3.9,12.8],[4.2,13.9],[4.3,15.2]],
  [[2.3,7.2],[2.85,9],[3.3,10.5],[3.65,11.6],[3.95,12.7],[4.2,13.9],[4.3,15.2]],[[2.45,7.4],[3,9],[3.55,10.5],[3.85,11.8],[4.05,12.9],[4.2,13.9],[4.3,15.2]],
  [[2.55,7.55],[3.1,9],[3.7,10.45],[3.95,11.9],[4.12,13],[4.2,13.9],[4.3,15.2]],[[2.64,7.74],[3.19,9],[3.83,10.45],[4.06,12.1],[4.19,13.9],[4.25,15.2]]
];

const selectionBox = { x0: 1.2, x1: 2.02, y0: -.48, y1: 1.5 };

const xDomain = [-1.69, 5];
const yDomain = [-10, 15];
const xMajor = [0, 2, 4];
const xMinor = [-1.5, -1, -.5, .5, 1, 1.5, 2.5, 3, 3.5, 4.5];
const yMajor = [-10, -5, 0, 5, 10, 15];
const yMinor = [-9, -8, -7, -6, -4, -3, -2, -1, 1, 2, 3, 4, 6, 7, 8, 9, 11, 12, 13, 14];
const teffTicks = [.3, .4, .5, .6, .7, .8, .9, 1];
const teffLabels = ['<0.3', '0.4', '0.5', '0.6', '0.7', '0.8', '0.9', '>1.0'];
const loggTicks = [0, 1, 2, 3, 4, 5];
const loggLabels = ['<0', '1', '2', '3', '4', '>5'];

const stars = [...hotOutliers, ...hotStrip, ...hotFill, ...midStars, ...midFill, ...giantStars, ...giantFill, ...lowerStars, ...lowerFill, ...dwarfStars];

const plotTop = 11, plotBottom = 352;
const grey = '#8c8c8c';
const tickFont = 'DejaVu Serif';

// same ramp as matplotlib's "rainbow"
function rainbow(t) {
    let r = Math.min(1, Math.abs(2 * t - .5));
    let g = Math.sin(Math.PI * t);
    let b = Math.cos(Math.PI * t / 2);
    return d3.rgb(r * 255, g * 255, b * 255).formatHex();
}

let svg = d3.select('#chart');
let defs = svg.append('defs');

function drawAxes(group, xScale, yScale) {

    group.append('g')
        .attr('transform', 'translate(0,' + plotBottom + ')')
        .call(d3.axisBottom(xScale).tickValues(xMinor).tickSize(-2.5).tickFormat(''))
        .call(g => g.select('.domain').remove());
    group.append('g')
        .attr('transform', 'translate(0,' + plotBottom + ')')
        .call(d3.axisBottom(xScale).tickValues(xMajor).tickSize(-4.5).tickPadding(5).tickFormat(d3.format('d')))
        .call(g => g.select('.domain').remove())
        .call(g => g.selectAll('line').attr('stroke-width', 1.5))
        .call(g => g.selectAll('text').style('font-size', '15px').style('font-family', tickFont));

    let left = xScale.range()[0];
    group.append('g')
        .attr('transform', 'translate(' + left + ',0)')
        .call(d3.axisLeft(yScale).tickValues(yMinor).tickSize(-2.5).tickFormat(''))
        .call(g => g.select('.domain').remove());
    group.append('g')
        .attr('transform', 'translate(' + left + ',0)')
        .call(d3.axisLeft(yScale).tickValues(yMajor).tickSize(-4.5).tickPadding(3).tickFormat(d3.format('d')))
        .call(g => g.select('.domain').remove())
        .call(g => g.selectAll('line').attr('stroke-width', 1.5))
        .call(g => g.selectAll('text').style('font-size', '15px').style('font-family', tickFont));

    group.append('rect')
        .attr('x', left)
        .attr('y', plotTop)
        .attr('width', xScale.range()[1] - left)
        .attr('height', plotBottom - plotTop)
        .attr('fill', 'none')
        .attr('stroke', grey)
        .attr('stroke-width', 1.2);

    let label = group.append('text')
        .attr('x', (left + xScale.range()[1]) / 2)
        .attr('y', 388)
        .attr('text-anchor', 'middle')
        .style('font-size', '16px');
    label.append('tspan').style('font-style', 'italic').text('G');
    label.append('tspan').style('font-style', 'italic').style('font-size', '11.5px').attr('dy', 3).text('BP');
    label.append('tspan').attr('dy', -3).text(' \u2212 ');
    label.append('tspan').style('font-style', 'italic').text('G');
    label.append('tspan').style('font-style', 'italic').style('font-size', '11.5px').attr('dy', 3).text('RP');
}

function drawColorbar(id, left, right, ramp, ticks, tickLabels, domain) {

    let yScale = d3.scaleLinear().domain(domain).range([plotBottom, plotTop]);

    let gradient = defs.append('linearGradient')
        .attr('id', id)
        .attr('x1', 0).attr('y1', 1).attr('x2', 0).attr('y2', 0);
    gradient.selectAll('stop')
        .data(d3.range(0, 1.001, .02))
        .enter()
        .append('stop')
        .attr('offset', d => d)
        .attr('stop-color', d => ramp(d));

    svg.append('rect')
        .attr('x', left).attr('y', plotTop)
        .attr('width', right - left).attr('height', plotBottom - plotTop)
        .attr('fill', 'url(#' + id + ')')
        .attr('stroke', grey)
        .attr('stroke-width', 1);

    svg.append('g')
        .attr('transform', 'translate(' + right + ',0)')
        .call(d3.axisRight(yScale).tickValues(ticks).tickSize(-2.5).tickPadding(4)
            .tickFormat((d, i) => tickLabels[i]))
        .call(g => g.select('.domain').remove())
        .call(g => g.selectAll('line').attr('stroke-width', 1.5))
        .call(g => g.selectAll('text').style('font-size', '15px').style('font-family', tickFont));
}

// panel 1, tracks with all stars on top
let x1 = d3.scaleLinear().domain(xDomain).range([61, 302]);
let y1 = d3.scaleLinear().domain(yDomain).range([plotTop, plotBottom]);

defs.append('clipPath').attr('id', 'panel1')
    .append('rect').attr('x', 61).attr('y', plotTop).attr('width', 241).attr('height', plotBottom - plotTop);

let panel1 = svg.append('g');
let trackLine = d3.line().x(d => x1(d[0])).y(d => y1(d[1])).curve(d3.curveCatmullRom);
let tracksGroup = panel1.append('g').attr('clip-path', 'url(#panel1)');

function drawTracks(tracks, width) {
    tracksGroup.selectAll(null)
        .data(tracks)
        .enter()
        .append('path')
        .attr('d', trackLine)
        .attr('fill', 'none')
        .attr('stroke', '#8a8a8a')
        .attr('stroke-width', width);
}
drawTracks(riseTracks, 2.4);
drawTracks(fanTracks, 2);
drawTracks(bandTracks, 4.6);
drawTracks(dwarfTracks, 3.6);

panel1.append('g').selectAll('circle')
    .data(stars)
    .enter()
    .append('circle')
    .attr('cx', d => x1(d[0]))
    .attr('cy', d => y1(d[1]))
    .attr('r', 4)
    .attr('fill', '#1e90ff')
    .attr('fill-opacity', .88)
    .attr('stroke', '#08203f')
    .attr('stroke-width', .9);

panel1.append('rect')
    .attr('x', x1(selectionBox.x0))
    .attr('y', y1(selectionBox.y0))
    .attr('width', x1(selectionBox.x1) - x1(selectionBox.x0))
    .attr('height', y1(selectionBox.y1) - y1(selectionBox.y0))
    .attr('fill', 'none')
    .attr('stroke', '#ff0000')
    .attr('stroke-width', 3);

drawAxes(panel1, x1, y1);

svg.append('text')
    .attr('transform', 'translate(19,181) rotate(-90)')
    .attr('text-anchor', 'middle')
    .style('font-size', '16px')
    .call(t => t.append('tspan').style('font-style', 'italic').text('M'))
    .call(t => t.append('tspan').style('font-style', 'italic').style('font-size', '11.5px').attr('dy', 3).text('G'));

// panels 2 and 3, same stars coloured by teff and log g
function drawColoured(left, right, colorOf) {

    let xScale = d3.scaleLinear().domain(xDomain).range([left, right]);
    let yScale = d3.scaleLinear().domain(yDomain).range([plotTop, plotBottom]);
    let group = svg.append('g');

    group.append('g').selectAll('circle')
        .data(stars)
        .enter()
        .append('circle')
        .attr('cx', d => xScale(d[0]))
        .attr('cy', d => yScale(d[1]))
        .attr('r', 4)
        .attr('fill', colorOf)
        .attr('fill-opacity', .85);

    drawAxes(group, xScale, yScale);
}

let teffRamp = d3.scaleLinear().domain([.3, 1]).range([1, 0]).clamp(true);
let loggRamp = d3.scaleLinear().domain([0, 5]).range([0, 1]).clamp(true);

drawColoured(368, 573.5, d => rainbow(teffRamp(d[2])));
drawColoured(674, 879, d => rainbow(loggRamp(d[3])));

drawColorbar('teffBar', 573.5, 590, t => rainbow(1 - t), teffTicks, teffLabels, [.3, 1]);
drawColorbar('loggBar', 879, 896, t => rainbow(t), loggTicks, loggLabels, [0, 5]);

svg.append('text')
    .attr('transform', 'translate(628,182) rotate(90)')
    .attr('text-anchor', 'middle')
    .style('font-size', '16px')
    .call(t => t.append('tspan').style('font-style', 'italic').text('Teff'))
    .call(t => t.append('tspan').text('/10'))
    .call(t => t.append('tspan').style('font-size', '11.5px').attr('dy', -6).text('4'))
    .call(t => t.append('tspan').attr('dy', 6).text(' [K]'));

svg.append('text')
    .attr('transform', 'translate(925,182) rotate(90)')
    .attr('text-anchor', 'middle')
    .style('font-size', '16px')
    .text('log g [dex]');
</script>
</body>
</html>
